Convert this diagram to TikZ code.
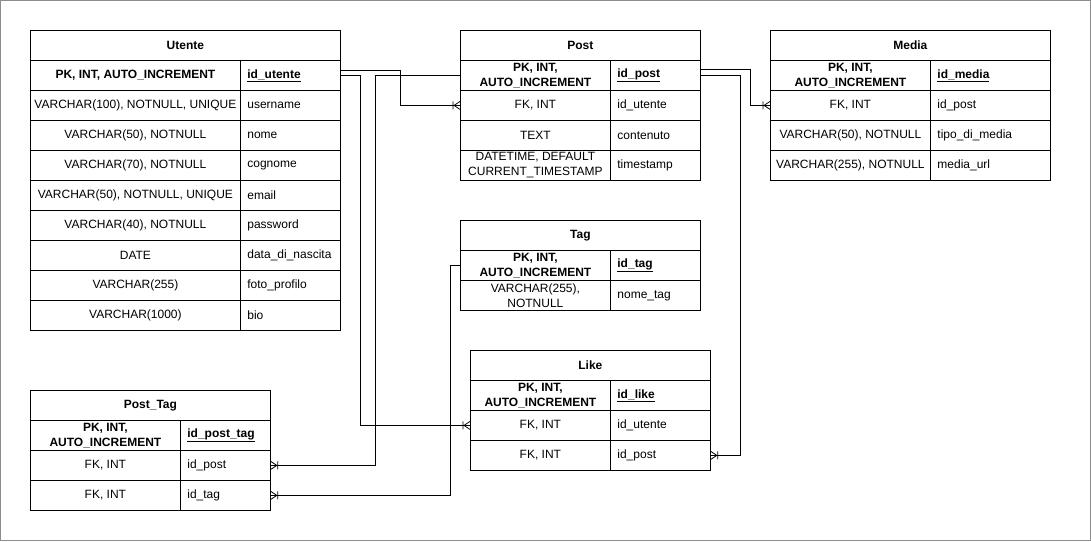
\documentclass[tikz,border=0pt]{standalone}
\usepackage{fontspec}
\setmainfont{Liberation Sans}
\usetikzlibrary{calc}
\tikzset{
  base/.style={draw=black, line width=0.8pt, inner sep=0pt, minimum height=30pt, anchor=north west, font=\fontsize{12}{15}\selectfont},
  lcell/.style={base, align=center},
  rcell/.style={base, inner xsep=7pt},
  hcell/.style={base, align=center, font=\fontsize{12}{15}\selectfont\bfseries},
  conn/.style={draw=black, line width=0.8pt},
  crow/.pic={\draw[conn] (-6,0) -- (0,-4) (-6,0) -- (0,4) (-7,-4) -- (-7,4);},
  frame/.style={draw=gray!90, line width=0.8pt}
}
% #1 name, #2 x, #3 y, #4 total width, #5 text
\newcommand\erhead[5]{\node[hcell, minimum width=#4pt] (#1) at (#2,#3) {#5};}
% #1 name, #2 x, #3 y, #4 left width, #5 right width, #6 left text, #7 right text
\newcommand\errow[7]{%
  \node[lcell, minimum width=#4pt] (#1-l) at (#2,#3) {#6};
  \node[rcell, minimum width=#5pt] (#1-r) at (#2+#4,#3) {\makebox[\dimexpr#5pt-14pt\relax][l]{#7}};}
\newcommand\erpk[7]{%
  \node[lcell, minimum width=#4pt, font=\fontsize{12}{15}\selectfont\bfseries] (#1-l) at (#2,#3) {#6};
  \node[rcell, minimum width=#5pt, font=\fontsize{12}{15}\selectfont\bfseries] (#1-r) at (#2+#4,#3) {\makebox[\dimexpr#5pt-14pt\relax][l]{\underline{#7}}};}
\begin{document}
\begin{tikzpicture}[x=1pt,y=-1pt]
\useasboundingbox (0,0) rectangle (1091,541);
\draw[frame] (0.5,0.5) rectangle (1090.5,540.5);

% Utente
\erhead{ut}{30}{30}{310}{Utente}
\erpk{ut-pk}{30}{60}{210}{100}{PK, INT, AUTO\_INCREMENT}{id\_utente}
\errow{ut-un}{30}{90}{210}{100}{VARCHAR(100), NOTNULL, UNIQUE}{username}
\errow{ut-no}{30}{120}{210}{100}{VARCHAR(50), NOTNULL}{nome}
\errow{ut-co}{30}{150}{210}{100}{VARCHAR(70), NOTNULL}{cognome}
\errow{ut-em}{30}{180}{210}{100}{VARCHAR(50), NOTNULL, UNIQUE}{email}
\errow{ut-pw}{30}{210}{210}{100}{VARCHAR(40), NOTNULL}{password}
\errow{ut-dn}{30}{240}{210}{100}{DATE}{data\_di\_nascita}
\errow{ut-fp}{30}{270}{210}{100}{VARCHAR(255)}{foto\_profilo}
\errow{ut-bio}{30}{300}{210}{100}{VARCHAR(1000)}{bio}

% Post
\erhead{po}{460}{30}{240}{Post}
\erpk{po-pk}{460}{60}{150}{90}{PK, INT,\\AUTO\_INCREMENT}{id\_post}
\errow{po-fk}{460}{90}{150}{90}{FK, INT}{id\_utente}
\errow{po-tx}{460}{120}{150}{90}{TEXT}{contenuto}
\errow{po-ts}{460}{150}{150}{90}{DATETIME, DEFAULT\\CURRENT\_TIMESTAMP}{timestamp}

% Media
\erhead{me}{770}{30}{280}{Media}
\erpk{me-pk}{770}{60}{160}{120}{PK, INT,\\AUTO\_INCREMENT}{id\_media}
\errow{me-fk}{770}{90}{160}{120}{FK, INT}{id\_post}
\errow{me-tp}{770}{120}{160}{120}{VARCHAR(50), NOTNULL}{tipo\_di\_media}
\errow{me-url}{770}{150}{160}{120}{VARCHAR(255), NOTNULL}{media\_url}

% Tag
\erhead{tg}{460}{220}{240}{Tag}
\erpk{tg-pk}{460}{250}{150}{90}{PK, INT,\\AUTO\_INCREMENT}{id\_tag}
\errow{tg-nm}{460}{280}{150}{90}{VARCHAR(255),\\NOTNULL}{nome\_tag}

% Like
\erhead{lk}{470}{350}{240}{Like}
\erpk{lk-pk}{470}{380}{140}{100}{PK, INT,\\AUTO\_INCREMENT}{id\_like}
\errow{lk-fku}{470}{410}{140}{100}{FK, INT}{id\_utente}
\errow{lk-fkp}{470}{440}{140}{100}{FK, INT}{id\_post}

% Post_Tag
\erhead{pt}{30}{390}{240}{Post\_Tag}
\erpk{pt-pk}{30}{420}{150}{90}{PK, INT,\\AUTO\_INCREMENT}{id\_post\_tag}
\errow{pt-post}{30}{450}{150}{90}{FK, INT}{id\_post}
\errow{pt-tag}{30}{480}{150}{90}{FK, INT}{id\_tag}

% connectors
\draw[conn] ([yshift=5pt]ut-pk-r.east) -- ++(60,0) |- (po-fk-l.west);
\pic at (po-fk-l.west) {crow};
\draw[conn] (ut-pk-r.east) -- ++(20,0) |- (lk-fku-l.west);
\pic at (lk-fku-l.west) {crow};
\draw[conn] (po-pk-l.west) -- ++(-85,0) |- (pt-post-r.east);
\pic[rotate=180] at (pt-post-r.east) {crow};
\draw[conn] ([yshift=6pt]po-pk-r.east) -- ++(50,0) |- (me-fk-l.west);
\pic at (me-fk-l.west) {crow};
\draw[conn] (po-pk-r.east) -- ++(40,0) |- (lk-fkp-r.east);
\pic[rotate=180] at (lk-fkp-r.east) {crow};
\draw[conn] (tg-pk-l.west) -- ++(-10,0) |- (pt-tag-r.east);
\pic[rotate=180] at (pt-tag-r.east) {crow};
\end{tikzpicture}
\end{document}
